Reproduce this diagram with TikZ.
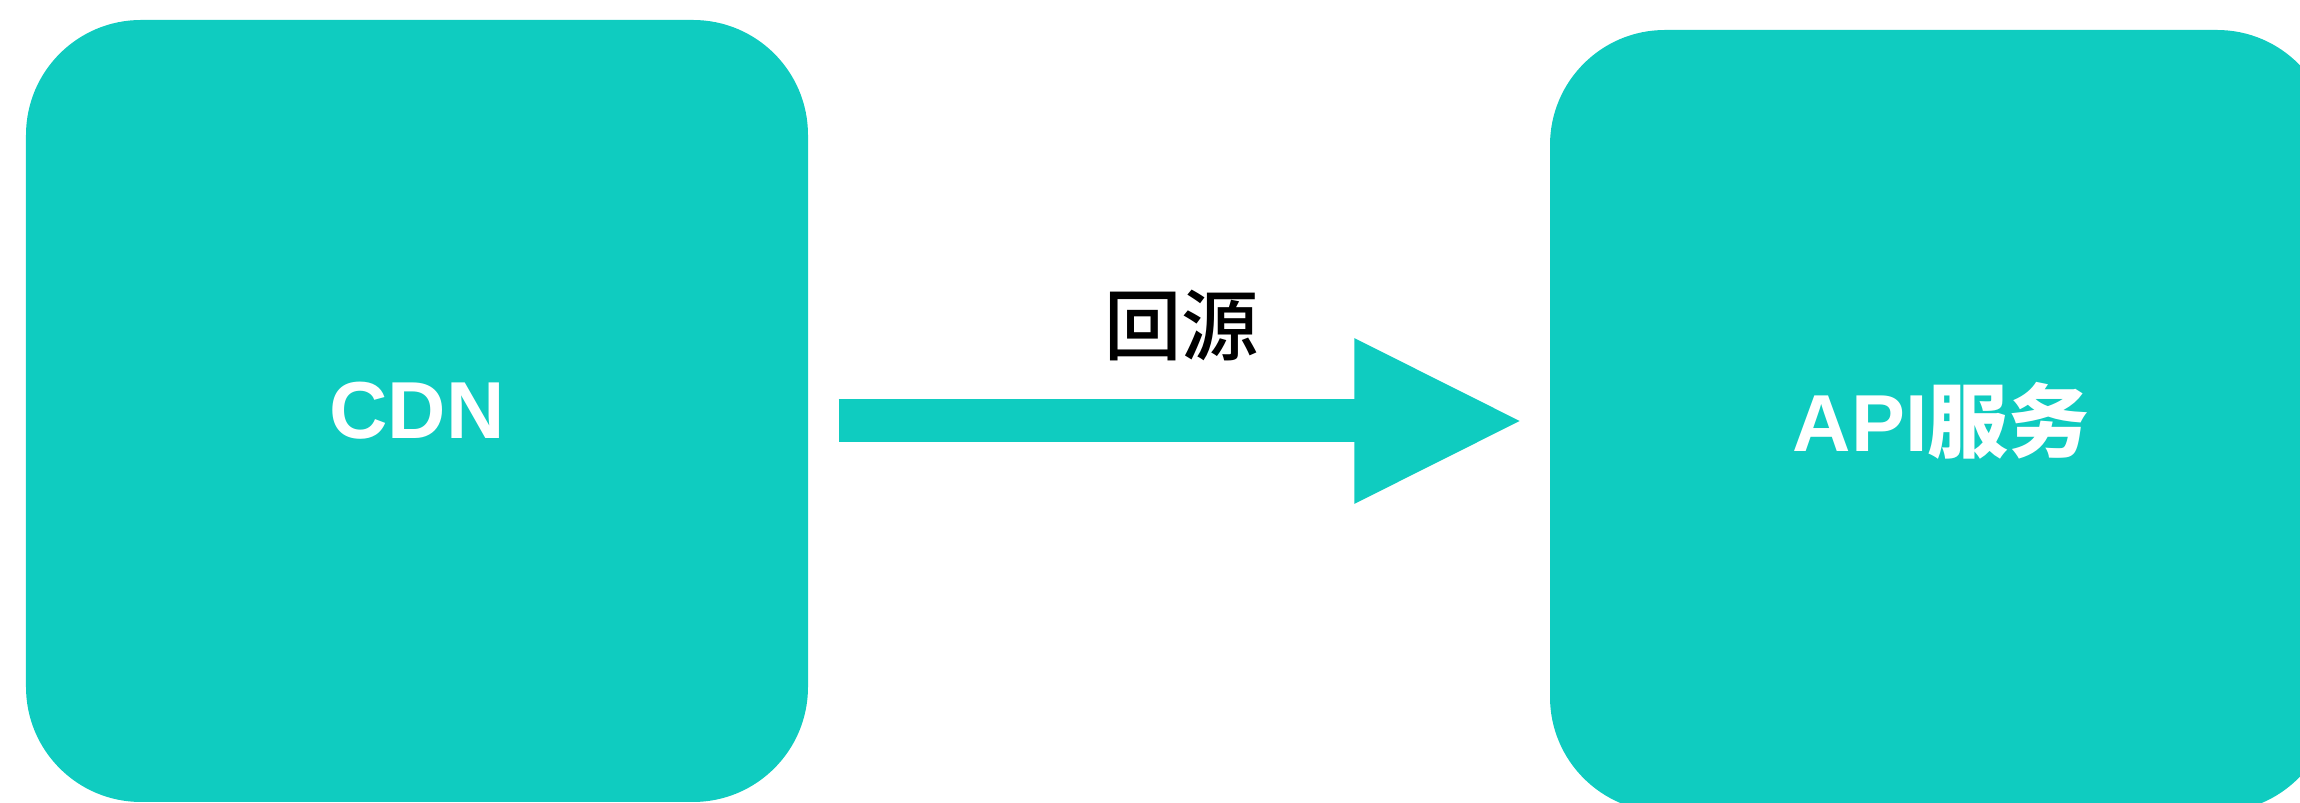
\documentclass[tikz,border=0pt]{standalone}
\usepackage{fontspec}
\setmainfont{Liberation Sans}
\newfontfamily\cjk{Noto Sans CJK SC}[UprightFont=* Medium]
\usetikzlibrary{arrows.meta,calc}
\definecolor{teal1}{RGB}{15,204,192}
\tikzset{
  bigbox/.style={fill=teal1, draw=none, rounded corners=1.15cm, minimum width=7.82cm, minimum height=7.82cm, inner sep=0pt, font=\fontsize{23}{27}\selectfont\bfseries, text=white},
  fatarrow/.style={draw=teal1, line width=0.43cm, -{Triangle[length=1.7cm,width=1.52cm]}},
  lbl/.style={font=\cjk\fontsize{22}{26}\selectfont, text=black, inner sep=0pt}
}
\begin{document}
\begin{tikzpicture}
\useasboundingbox (0,0) rectangle (23,8.03);
\clip (0,0) rectangle (23,8.03);
\node[bigbox] (cdn) at (4.17,3.92) {CDN};
\node[bigbox] (api) at (19.41,3.82) {API{\cjk 服务}};
\coordinate (s) at ($(cdn.east |- api.west)+(0.30,0)$);
\coordinate (t) at ($(api.west)+(-0.25,0)$);
\draw[fatarrow] (s) -- (t) node[lbl, midway, yshift=0.955cm] (lab) {回源};
\end{tikzpicture}
\end{document}
